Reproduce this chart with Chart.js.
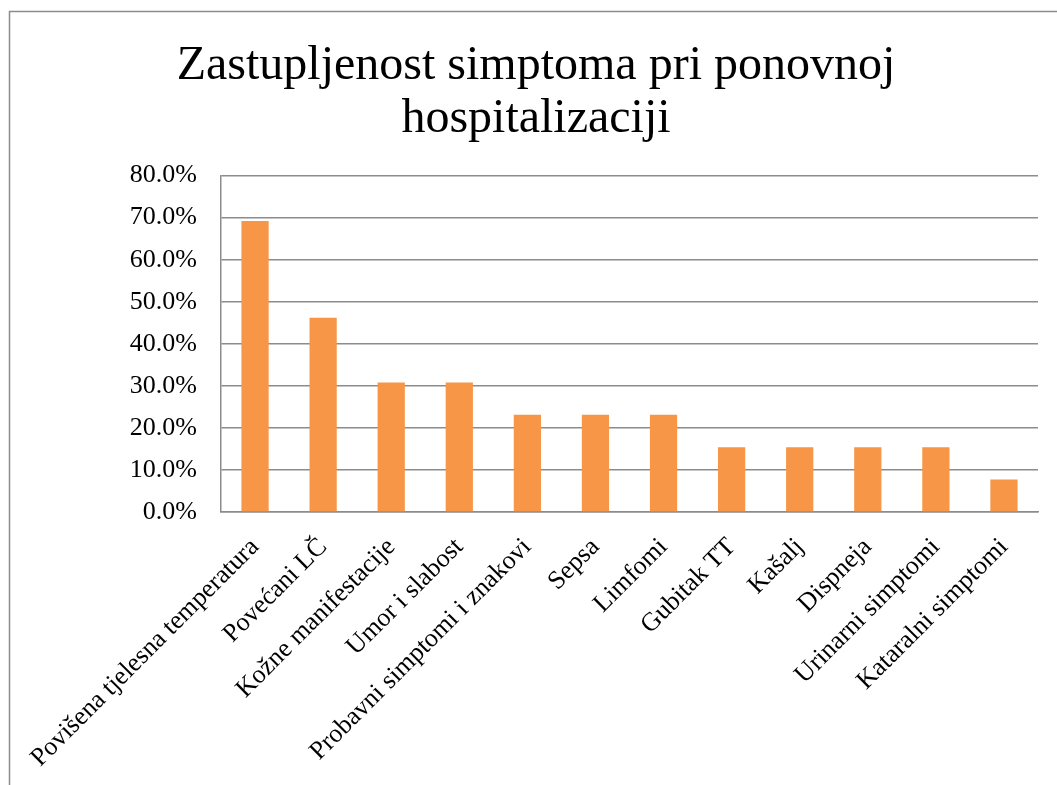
<!DOCTYPE html>
<html>
<head>
<meta charset="utf-8">
<title>Zastupljenost simptoma</title>
<script src="https://cdn.jsdelivr.net/npm/chart.js@4"></script>
<style>
  body { margin: 0; background: #fff; }
  #wrap { position: relative; width: 1057px; height: 785px; }
</style>
</head>
<body>
<div id="wrap"><canvas id="symptomChart"></canvas></div>
<script>
const categories = [
  'Povišena tjelesna temperatura',
  'Povećani LČ',
  'Kožne manifestacije',
  'Umor i slabost',
  'Probavni simptomi i znakovi',
  'Sepsa',
  'Limfomi',
  'Gubitak TT',
  'Kašalj',
  'Dispneja',
  'Urinarni simptomi',
  'Kataralni simptomi'
];
const shares = [69.2, 46.2, 30.8, 30.8, 23.1, 23.1, 23.1, 15.4, 15.4, 15.4, 15.4, 7.7];
const titleLines = ['Zastupljenost simptoma pri ponovnoj', 'hospitalizaciji'];

const serif = '"Liberation Serif", "Times New Roman", serif';

// grey frame around the whole chart, like the exported office chart
const frame = {
  id: 'frame',
  beforeDraw(chart) {
    const ctx = chart.ctx;
    ctx.save();
    ctx.fillStyle = '#fff';
    ctx.fillRect(0, 0, chart.width, chart.height);
    ctx.strokeStyle = '#8c8c8c';
    ctx.lineWidth = 1.5;
    ctx.strokeRect(9.5, 11.5, 2000, 2000);
    ctx.restore();
  }
};

new Chart(document.getElementById('symptomChart'), {
  type: 'bar',
  data: {
    labels: categories,
    datasets: [{
      data: shares,
      backgroundColor: '#F79646',
      borderWidth: 0,
      categoryPercentage: 1,
      barPercentage: 0.4
    }]
  },
  options: {
    responsive: true,
    maintainAspectRatio: false,
    animation: false,
    layout: {
      padding: { left: 34, right: 19, top: 0, bottom: 0 }
    },
    scales: {
      x: {
        grid: { display: false, drawTicks: false },
        border: { color: '#8c8c8c', width: 1.5 },
        ticks: {
          color: '#000',
          font: { family: serif, size: 26 },
          minRotation: 45,
          maxRotation: 45,
          autoSkip: false,
          padding: 20
        },
        afterFit: scale => { scale.height = 273; }
      },
      y: {
        min: 0,
        max: 80,
        grid: { color: '#8c8c8c', lineWidth: 1.5, drawTicks: false },
        border: { color: '#8c8c8c', width: 1.5 },
        ticks: {
          stepSize: 10,
          color: '#000',
          padding: 24,
          font: { family: serif, size: 26 },
          callback: v => v.toFixed(1) + '%'
        },
        // keep the plot edge where the reference has it, title stays centred on the frame
        afterFit: scale => { scale.width = 187; }
      }
    },
    plugins: {
      legend: { display: false },
      tooltip: { enabled: false },
      title: {
        display: true,
        text: titleLines,
        color: '#000',
        font: { family: serif, size: 48, weight: 'normal', lineHeight: 1.1 },
        padding: { top: 40, bottom: 30 }
      }
    }
  },
  plugins: [frame]
});
</script>
</body>
</html>
